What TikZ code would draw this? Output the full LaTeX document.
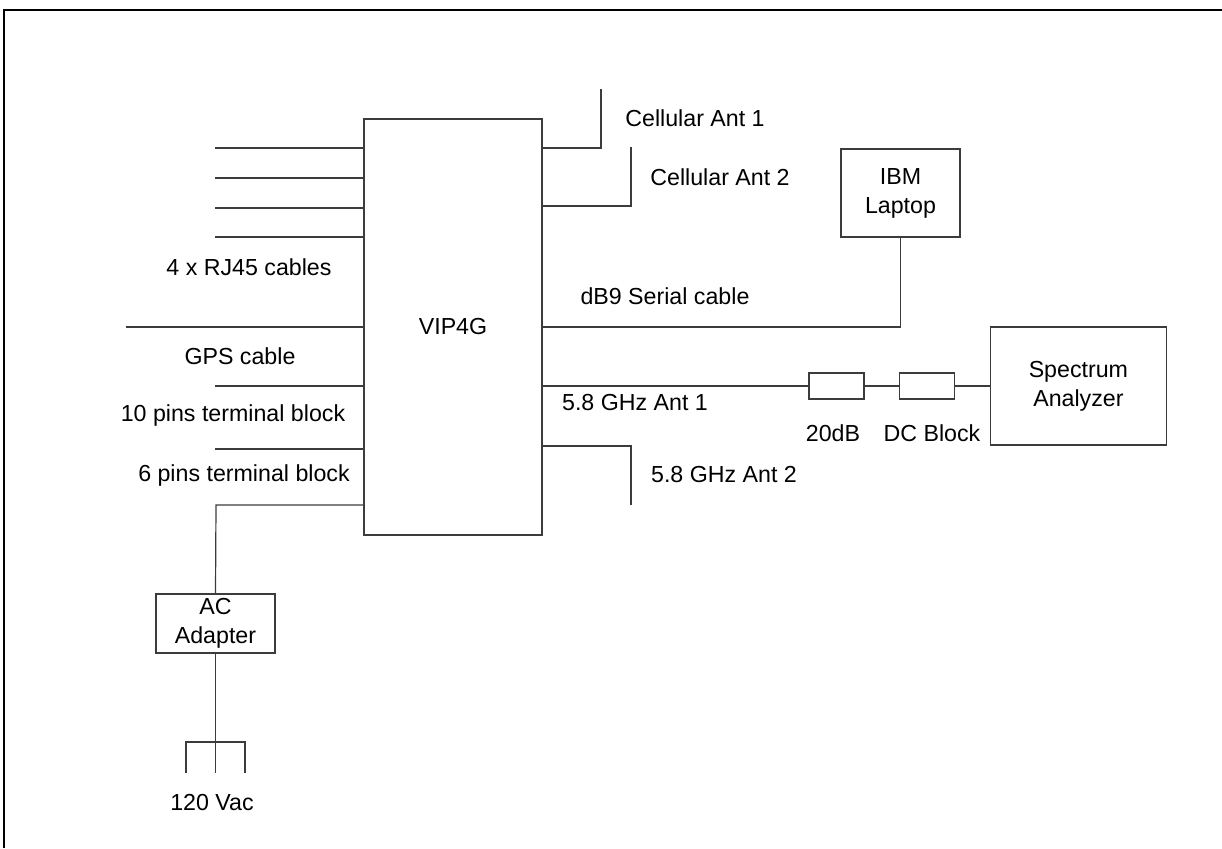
\documentclass[tikz,border=0pt]{standalone}
\usepackage{fontspec}
\setmainfont{Liberation Sans}
\usetikzlibrary{positioning}
\definecolor{wirecol}{RGB}{60,60,60}

\begin{document}
\begin{tikzpicture}[x=0.5pt, y=-0.5pt, node distance=17pt,
      every node/.style={font=\fontsize{11.6}{14.5}\selectfont, inner sep=0pt},
      unit/.style={draw=wirecol, line width=0.6pt, align=center},
      wire/.style={draw=wirecol, line width=0.6pt}]
  \useasboundingbox (0,0) rectangle (1222,848);
  \draw[line width=1pt] (4,848) -- (4,10) -- (1222,10);

  % units
  \node[unit, minimum width=89pt, minimum height=208pt] (vip) at (453,327) {VIP4G};
  \node[unit, minimum width=59.5pt, minimum height=44pt] (laptop) at (900.5,193) {IBM\\Laptop};
  \node[unit, minimum width=27.5pt, minimum height=13pt] (att) at (836.5,386) {};
  \node[unit, minimum width=27.5pt, minimum height=13pt, right=of att] (dcb) {};
  \node[unit, minimum width=88pt, minimum height=59pt, right=17.5pt of dcb] (spec) {Spectrum\\Analyzer};
  \node[unit, minimum width=59.5pt, minimum height=29.5pt] (acad) at (215.5,623.5) {AC\\Adapter};

  % left side cables
  \foreach \y [count=\i] in {148,178,208,237} {
    \coordinate (rj\i) at (215,\y);
    \draw[wire] (rj\i) -- (rj\i -| vip.west);
  }
  \coordinate (gps) at (126,327);
  \coordinate (tb10) at (215,386);
  \coordinate (tb6) at (215,449);
  \coordinate (pwr) at (216,505);
  \draw[wire] (gps) -- (gps -| vip.west);
  \draw[wire] (tb10) -- (tb10 -| vip.west);
  \draw[wire] (tb6) -- (tb6 -| vip.west);
  \draw[wire] (pwr -| vip.west) -- (pwr) -- (acad.north);

  % mains plug
  \coordinate (plugl) at (186,773);
  \coordinate (plugr) at (245,773);
  \draw[wire] (acad.south) -- (acad.south |- plugl);
  \draw[wire] (plugl) -- ++(0,-31) -| (plugr);

  % right side cables
  \coordinate (cant1) at (601,89);
  \coordinate (cant2) at (631,147);
  \coordinate (gant2) at (631,505);
  \draw[wire] (vip.east |- 0,148) -| (cant1);
  \draw[wire] (vip.east |- 0,206) -| (cant2);
  \draw[wire] (vip.east) -| (laptop.south);
  \draw[wire] (vip.east |- att) -- (att.west);
  \draw[wire] (att) -- (dcb);
  \draw[wire] (dcb) -- (spec);
  \draw[wire] (vip.east |- 0,446) -| (gant2);

  % labels
  \node (lrj) at (249,267) {4 x RJ45 cables};
  \node (lgps) at (240,356) {GPS cable};
  \node (ltb10) at (233,415) {10 pins terminal block};
  \node (ltb6) at (244,475) {6 pins terminal block};
  \node (lmains) at (212,802) {120 Vac};
  \node (lcant1) at (695,118) {Cellular Ant 1};
  \node (lcant2) at (720,177) {Cellular Ant 2};
  \node (ldb9) at (665,296) {dB9 Serial cable};
  \node (lgant1) at (635,403) {5.8 GHz Ant 1};
  \node (lgant2) at (724,475) {5.8 GHz Ant 2};
  \node (latt) at (833,433) {20dB};
  \node (ldcb) at (932,433) {DC Block};
\end{tikzpicture}
\end{document}
